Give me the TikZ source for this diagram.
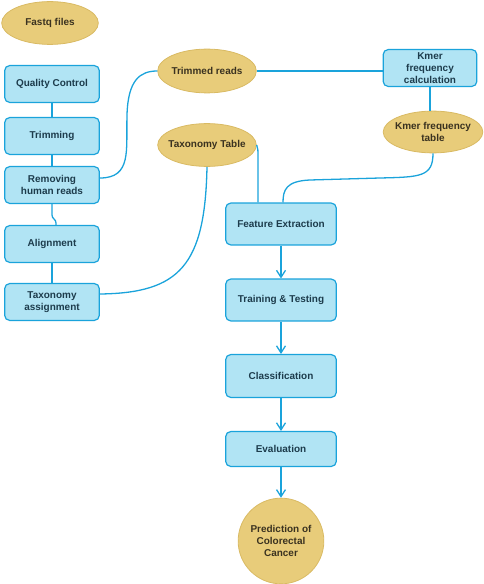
\documentclass[tikz,border=0pt]{standalone}
\usepackage{fontspec}
\setmainfont{Liberation Sans}
\usetikzlibrary{shapes.geometric,arrows.meta}
\definecolor{lineblue}{HTML}{1AA3DB}
\definecolor{boxfill}{HTML}{B1E4F4}
\definecolor{sandfill}{HTML}{E8CC7A}
\definecolor{sanddraw}{HTML}{D9BA63}
\definecolor{boxtext}{HTML}{1D3C4C}
\definecolor{sandtext}{HTML}{3A3220}
\tikzset{
  stepbox/.style={draw=lineblue, fill=boxfill, line width=1.2pt, rounded corners=5pt,
    text=boxtext, align=center, inner sep=0pt, font=\fontsize{10}{12}\selectfont\bfseries},
  blob/.style={ellipse, draw=sanddraw, fill=sandfill, line width=0.8pt, inner ysep=0pt, inner xsep=-5bp,
    text=sandtext, align=center, font=\fontsize{10}{12}\selectfont\bfseries},
  link/.style={draw=lineblue, line width=1.3pt},
  flow/.style={link, -{Straight Barb[length=7pt,width=9pt]}}
}
\begin{document}
\begin{tikzpicture}[x=1bp, y=-1bp]
\useasboundingbox (0,0) rectangle (484,584);
\node[blob, minimum width=97, minimum height=43] (fastq) at (50,23){Fastq files};
\node[stepbox, minimum width=95, minimum height=37] (qc) at (52,84){Quality Control};
\node[stepbox, minimum width=95, minimum height=37] (trim) at (52,136){Trimming};
\node[stepbox, minimum width=95, minimum height=37] (rmhr) at (52,185){Removing\\human reads};
\node[stepbox, minimum width=95, minimum height=37] (align) at (52,244){Alignment};
\node[stepbox, minimum width=95, minimum height=37] (taxa) at (52,302){Taxonomy\\assignment};
\draw[link](qc) -- (trim);
\draw[link](trim) -- (rmhr);
\draw[link](rmhr.south) -- (52,215) .. controls (52,219) and (56,219) .. (56,223) -- (align.north -| 56,0);
\draw[link](align) -- (taxa);
\node[blob, minimum width=99, minimum height=44] (trimr) at (207,71){Trimmed reads};
\node[blob, minimum width=99, minimum height=43] (taxt) at (207,145){Taxonomy Table};
\node[stepbox, minimum width=94, minimum height=37] (kmerc) at (430,68){Kmer\\frequency\\calculation};
\node[blob, minimum width=100, minimum height=42] (kmert) at (433,132){Kmer frequency\\table};
\draw[link](rmhr.east |- 0,178) .. controls (132,178) and (126,150) .. (127,115)
  .. controls (128,80) and (140,71) .. (trimr.west);
\draw[link](trimr.east) -- (kmerc.west |- trimr.east);
\draw[link](kmerc.south) -- (kmert.north -| kmerc.south);
\node[stepbox, minimum width=111, minimum height=42] (feat) at (281,224){Feature Extraction};
\node[stepbox, minimum width=111, minimum height=42] (train) at (281,300){Training \& Testing};
\node[stepbox, minimum width=111, minimum height=43] (clf) at (281,376){Classification};
\node[stepbox, minimum width=111, minimum height=35] (eval) at (281,449){Evaluation};
\node[circle, draw=sanddraw, fill=sandfill, line width=0.8pt, inner sep=0pt, minimum size=86,
  text=sandtext, align=center, font=\fontsize{10}{12}\selectfont\bfseries] (pred) at (281,541){Prediction of\\Colorectal\\Cancer};
\draw[link](taxt.east) .. controls (258,148) .. (258,165) -- (feat.north -| 258,0);
\draw[link](kmert.south) .. controls (433,177) and (420,177) .. (380,178) -- (310,180)
  .. controls (286,181) and (283,190) .. (feat.north -| 283,0);
\draw[link](taxt.south) .. controls (205,265) and (180,293) .. (taxa.east |- 0,294);
\draw[flow](feat) -- (train);
\draw[flow](train) -- (clf);
\draw[flow](clf) -- (eval);
\draw[flow](eval) -- (pred);
\end{tikzpicture}
\end{document}
